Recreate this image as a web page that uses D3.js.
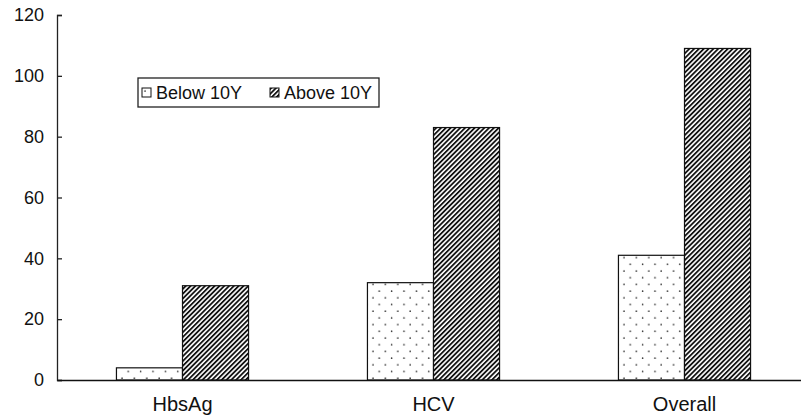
<!DOCTYPE html>
<html>
<head>
<meta charset="utf-8">
<script src="https://cdn.jsdelivr.net/npm/d3@7"></script>
<style>
  body { margin: 0; background: #fff; }
  svg { display: block; font-family: "Liberation Sans", Arial, sans-serif; }
</style>
</head>
<body>
<div id="chart"></div>
<script>
const categories = ["HbsAg", "HCV", "Overall"];
const seriesNames = ["Below 10Y", "Above 10Y"];
const below10 = [4, 32, 41];
const above10 = [31, 83, 109];
const yTicks = [0, 20, 40, 60, 80, 100, 120];

const W = 801, H = 419;
const margin = { top: 15, left: 57, bottom: 39 };
const plotRight = 810;

const svg = d3.select("#chart").append("svg")
    .attr("width", W)
    .attr("height", H);

// fill patterns
const defs = svg.append("defs");
const dots = defs.append("pattern")
    .attr("id", "dots")
    .attr("patternUnits", "userSpaceOnUse")
    .attr("width", 12.4)
    .attr("height", 13.4);
dots.append("rect").attr("width", 12.4).attr("height", 13.4).attr("fill", "#fff");
dots.append("circle").attr("cx", 3).attr("cy", 3).attr("r", 0.8).attr("fill", "#333");
dots.append("circle").attr("cx", 9.2).attr("cy", 9.7).attr("r", 0.8).attr("fill", "#333");

const hatch = defs.append("pattern")
    .attr("id", "hatch")
    .attr("patternUnits", "userSpaceOnUse")
    .attr("width", 3.4)
    .attr("height", 3.4)
    .attr("patternTransform", "rotate(45)");
hatch.append("rect").attr("width", 3.4).attr("height", 3.4).attr("fill", "#fff");
hatch.append("rect").attr("width", 1.8).attr("height", 3.4).attr("fill", "#111");

const fills = ["url(#dots)", "url(#hatch)"];

const x = d3.scaleBand()
    .domain(categories)
    .range([margin.left, plotRight])
    .paddingInner(0)
    .paddingOuter(0);

const x1 = d3.scaleBand()
    .domain(seriesNames)
    .range([0, x.bandwidth()])
    .paddingOuter(0.9)
    .paddingInner(0);

const y = d3.scaleLinear()
    .domain([0, 120])
    .range([H - margin.bottom, margin.top]);

const rows = categories.map((c, i) => ({ cat: c, values: [below10[i], above10[i]] }));

const groups = svg.selectAll("g.grp")
    .data(rows)
    .join("g")
    .attr("class", "grp")
    .attr("transform", d => `translate(${x(d.cat)},0)`);

groups.selectAll("rect")
    .data(d => d.values.map((v, j) => ({ key: seriesNames[j], v, j })))
    .join("rect")
    .attr("x", d => x1(d.key))
    .attr("y", d => y(d.v))
    .attr("width", x1.bandwidth())
    .attr("height", d => y(0) - y(d.v))
    .attr("fill", d => fills[d.j])
    .attr("stroke", "#111")
    .attr("stroke-width", 1.2);

// y axis
const yAxis = svg.append("g")
    .attr("transform", `translate(${margin.left},0)`)
    .call(d3.axisLeft(y).tickValues(yTicks).tickSize(-5).tickPadding(13));
yAxis.select(".domain").attr("stroke", "#222").attr("stroke-width", 1.3);
yAxis.selectAll(".tick line").attr("stroke", "#222").attr("stroke-width", 1.3);
yAxis.selectAll("text").attr("font-size", 18).attr("fill", "#111")
    .attr("font-family", "Liberation Sans, Arial, sans-serif");

// x axis
const xAxis = svg.append("g")
    .attr("transform", `translate(0,${y(0)})`)
    .call(d3.axisBottom(x).tickSize(0).tickPadding(17));
xAxis.select(".domain").attr("stroke", "#111").attr("stroke-width", 1.6);
xAxis.selectAll("text").attr("font-size", 20).attr("fill", "#111")
    .attr("font-family", "Liberation Sans, Arial, sans-serif");

// legend
const legend = svg.append("g").attr("transform", "translate(138,78)");
legend.append("rect")
    .attr("width", 241).attr("height", 29)
    .attr("fill", "#fff").attr("stroke", "#222").attr("stroke-width", 1.3);
const legendX = [4, 132];
seriesNames.forEach((s, i) => {
    const g = legend.append("g").attr("transform", `translate(${legendX[i]},10)`);
    g.append("rect").attr("width", 9).attr("height", 9)
        .attr("fill", fills[i]).attr("stroke", "#111").attr("stroke-width", 1);
    g.append("text").attr("x", 14).attr("y", 11)
        .attr("font-size", 18).attr("fill", "#111").text(s);
});
</script>
</body>
</html>
